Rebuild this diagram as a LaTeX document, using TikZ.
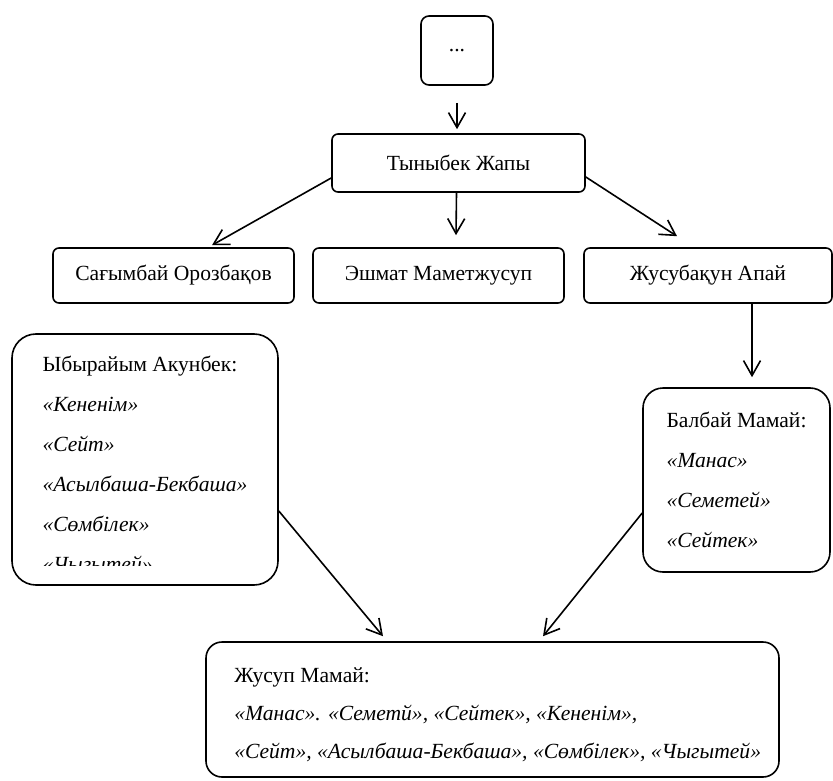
\documentclass[tikz,border=0pt]{standalone}
\usepackage{fontspec}
\setmainfont{Liberation Serif}
\usepackage{tikz}
\usetikzlibrary{arrows.meta, calc}
\tikzstyle{arrow} = [line width=0.8pt,-{Straight Barb[length=7.5pt,width=8.5pt]}]
\tikzstyle{person} = [draw, line width=0.8pt, rounded corners=3pt, align=center, inner sep=0pt]
\tikzstyle{repertoire} = [draw, line width=0.8pt, align=left, inner sep=0pt]

\begin{document}
\begin{tikzpicture}[x=0.5pt, y=-0.5pt, font=\fontsize{10.8}{20}\selectfont]
\useasboundingbox (0,0) rectangle (833,780);
\node[person, minimum width=36pt, minimum height=34.5pt, rounded corners=4pt] (dots) at (457,50.5) {...};
\node[person, minimum width=126.5pt, minimum height=29pt] (tynybek) at (458.5,163) {Тыныбек Жапы};
\node[person, minimum width=120.5pt, minimum height=27.5pt] (sagymbai) at (173.5,275.5) {Сағымбай Орозбақов};
\node[person, minimum width=125.5pt, minimum height=27.5pt] (eshmat) at (438.5,275.5) {Эшмат Маметжусуп};
\node[person, minimum width=124pt, minimum height=27.5pt] (zhusubakun) at (708,275.5) {Жусубақун Апай};

% akyns and their repertoire
\node[repertoire, minimum width=133pt, minimum height=125.5pt, rounded corners=12pt] (akunbek) at (145,459.5) {};
\coordinate (cliplimit) at (0,565);
\begin{scope}
\clip (akunbek.north west) rectangle (akunbek.east |- cliplimit);
\node[align=left] (akunbeklist) at ($(akunbek.center)+(0,4)$) {Ыбырайым Акунбек:\\ \textit{«Кененім»}\\ \textit{«Сейт»}\\ \textit{«Асылбаша-Бекбаша»}\\ \textit{«Сөмбілек»}\\ \textit{«Чыгытей»}};
\end{scope}
\node[repertoire, minimum width=93.5pt, minimum height=92pt, rounded corners=10pt] (balbai) at (736.5,480) {Балбай Мамай:\\ \textit{«Манас»}\\ \textit{«Семетей»}\\ \textit{«Сейтек»}};
\node[repertoire, minimum width=286.5pt, minimum height=67.5pt, rounded corners=8pt] (zhusup) at (492.5,709.5) {};
\node[anchor=west, align=left, font=\fontsize{10.8}{19}\selectfont] (zhusuplist) at ($(zhusup.west)+(22,5)$) {Жусуп Мамай:\\ \textit{«Манас». «Семетй», «Сейтек», «Кененім»,}\\ \textit{«Сейт», «Асылбаша-Бекбаша», «Сөмбілек», «Чыгытей»}};

% arrows
\draw[arrow, shorten <=8.5pt, shorten >=2pt] (dots.south) -- (dots.south |- tynybek.north);
\draw[arrow] ($(tynybek.west)+(0,15)$) -- ($(sagymbai.north)+(38.5,-2)$);
\draw[arrow] ($(tynybek.south)+(-2,0)$) -- ($(eshmat.north)+(17.5,-12)$);
\draw[arrow] ($(tynybek.east)+(0,14)$) -- ($(zhusubakun.north)+(-31,-11)$);
\draw[arrow] ($(zhusubakun.south)+(44,0)$) -- ($(balbai.north)+(15.5,-10)$);
\draw[arrow] ($(akunbek.east)+(0,51.5)$) -- ($(zhusup.north)+(-109.5,-5)$);
\draw[arrow] ($(balbai.west)+(0,33)$) -- ($(zhusup.north)+(50.5,-5)$);
\end{tikzpicture}
\end{document}
